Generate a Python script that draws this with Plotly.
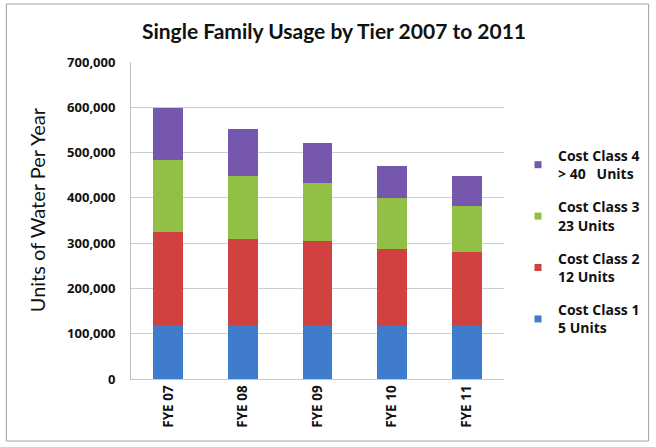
import plotly.graph_objects as go

categories = ["FYE 07", "FYE 08", "FYE 09", "FYE 10", "FYE 11"]
class1 = [119000, 119000, 117000, 117000, 116000]
class2 = [206000, 191000, 188000, 170000, 164000]
class3 = [158000, 139000, 127000, 112000, 103000]
class4 = [115000, 103000, 90000, 71000, 65000]
series_names = ["Cost Class 1<br>5 Units", "Cost Class 2<br>12 Units",
                "Cost Class 3<br>23 Units", "Cost Class 4<br>> 40   Units"]
colors = ["#3F7DCC", "#D0413F", "#92BF45", "#7657AE"]

FONT = "'Open Sans', Lato, sans-serif"
LATO = "Lato, 'Open Sans', sans-serif"
fig = go.Figure()
for i, (name, vals, col) in enumerate(zip(series_names, [class1, class2, class3, class4], colors)):
    fig.add_trace(go.Bar(x=categories, y=vals, name=name, marker=dict(color=col, line=dict(width=0)),
                         showlegend=False))
# legend entries with small square swatches
for i, (name, col) in enumerate(zip(series_names, colors)):
    fig.add_trace(go.Scatter(x=[None], y=[None], mode="markers", name="<b>" + name.replace("<br>", "</b><br><b>") + "</b>",
                             marker=dict(symbol="square", size=7, color=col),
                             legendgroup=f"g{i}", legendrank=10 - i, showlegend=True))

W, H = 656, 447
ml, mr, mt, mb = 131, 151, 62, 68
pw, ph = W - ml - mr, H - mt - mb

fig.update_layout(
    width=W, height=H, barmode="stack", bargap=0.6,
    margin=dict(l=ml, r=mr, t=mt, b=mb),
    paper_bgcolor="white", plot_bgcolor="white",
    font=dict(family=FONT, color="#111111"),
    title=dict(text="<b>Single Family Usage by Tier 2007 to 2011</b>", x=(334 / W), xanchor="center",
               y=1 - 32 / H, yanchor="middle", font=dict(size=21, family=LATO, color="#111111")),
    xaxis=dict(tickangle=-90, tickfont=dict(size=13.5, family=FONT), showline=True,
               linecolor="#C8C8C8", linewidth=1, ticks="", showgrid=False, tickprefix="<b>", ticksuffix="</b>"),
    yaxis=dict(range=[0, 700000], dtick=100000, tickformat=",", showgrid=True, gridcolor="#C9CFD9",
               showline=True, linecolor="#BFBFBF", linewidth=1, ticks="", ticklabelstandoff=12,
               tickfont=dict(size=13, family=FONT), tickprefix="<b>", ticksuffix="</b>",
               zeroline=False),
    legend=dict(x=(518 - ml) / pw, y=(mt + ph - 140) / ph, xanchor="left", yanchor="top",
                traceorder="grouped", tracegroupgap=12,
                font=dict(size=14, family=FONT), itemwidth=30, bgcolor="rgba(0,0,0,0)"),
    showlegend=True,
)

fig.add_annotation(text="Units of Water Per Year", textangle=-90, xref="paper", yref="paper",
                   x=(37 - ml) / pw, y=(mt + ph - 210) / ph, xanchor="center", yanchor="middle",
                   showarrow=False, font=dict(size=20, family=LATO, color="#111111"))

# outer border
x0 = (6 - ml) / pw; x1 = (650 - ml) / pw
y0 = (mt + ph - 441) / ph; y1 = (mt + ph - 4) / ph
fig.add_shape(type="rect", xref="paper", yref="paper", x0=x0, x1=x1, y0=y0, y1=y1,
              line=dict(color="#A0A0A0", width=1), fillcolor="rgba(0,0,0,0)")

fig.write_html("out.html")
